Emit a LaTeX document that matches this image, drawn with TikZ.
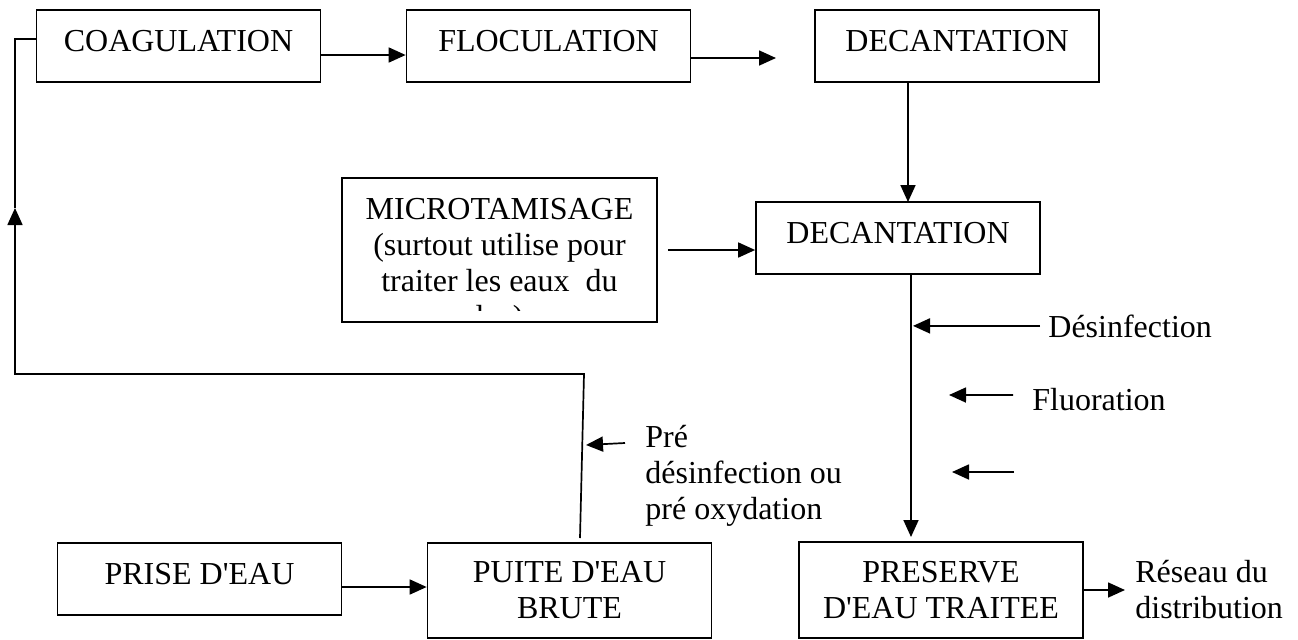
\documentclass[tikz,border=0pt]{standalone}
\usepackage{fontspec}
\setmainfont{Liberation Serif}
\usetikzlibrary{arrows.meta,positioning}

\begin{document}
\begin{tikzpicture}[x=0.5pt, y=-0.5pt,
    every node/.style={font=\fontsize{16pt}{18pt}\selectfont, inner sep=0pt},
    etape/.style={draw, line width=0.85pt, minimum width=142pt, minimum height=36pt, align=center},
    haut/.style={text height=11pt, text depth=5.5pt},
    fleche/.style={line width=0.85pt, -{Triangle[length=8.5pt, width=7.5pt]}},
    trait/.style={line width=0.85pt}]
  \useasboundingbox (0,0) rectangle (1298,639);

  % Top row
  \node[etape, haut] (coag) at (178.5,46) {COAGULATION};
  \node[etape, haut] (floc) at (548.5,46) {FLOCULATION};
  \node[etape, haut] (dec1) at (957,46) {DECANTATION};

  % Middle row
  \node[etape, haut] (dec2) at (898,238) {DECANTATION};
  \node[etape, minimum width=157.5pt, minimum height=72pt] (micro) at (499.5,250) {};
  \begin{scope}
    \clip (micro.north west) rectangle ([yshift=6pt]micro.south east);
    \node[anchor=base, align=center] (microtxt) at (499.5,327)
      {MICROTAMISAGE\\(surtout utilise pour\\traiter les eaux\ \ du\\lac)};
  \end{scope}

  % Bottom row
  \node[etape, haut] (prise) at (199.5,579) {PRISE D\textquotesingle EAU};
  \node[etape, minimum height=47.5pt] (puite) at (569.5,590.5) {PUITE D\textquotesingle EAU\\BRUTE};
  \node[etape, minimum height=48pt] (preserve) at (941,590) {PRESERVE\\D\textquotesingle EAU TRAITEE};

  % Labels
  \node[anchor=base west] (desinf) at (1048,337) {Désinfection};
  \node[anchor=base west] (fluor) at (1032,410) {Fluoration};
  \node[anchor=base west, align=left] (preox) at (645,519) {Pré\\désinfection ou\\pré oxydation};
  \node[anchor=base west, align=left] (reseau) at (1135,618) {Réseau du\\distribution};

  % Free ends
  \coordinate (flocfin) at (776,58);
  \coordinate (dec2haut) at (908,202);
  \coordinate (sortie) at (911,537);
  \coordinate (pD) at (913,325);
  \coordinate (fB) at (949,395);
  \coordinate (tA) at (1014,472);
  \coordinate (tB) at (952,472);
  \coordinate (pA) at (625,443);
  \coordinate (pB) at (586,445);
  \coordinate (puitehaut) at (580,538);
  \coordinate (coinD) at (584,374);
  \coordinate (coinG) at (15,374);
  \coordinate (flecheG) at (15,208);

  % Connectors
  \draw[fleche] ([yshift=-4.5pt]coag.east) -- ([yshift=-4.5pt]floc.west);
  \draw[fleche] ([yshift=-6pt]floc.east) -- (flocfin);
  \draw[fleche] (dec1.south -| dec2haut) -- (dec2haut);
  \draw[fleche] ([xshift=5pt]micro.east) -- (micro.east -| dec2.west);
  \draw[fleche] (dec2.south -| sortie) -- (sortie);
  \draw[fleche] ([xshift=-4pt]desinf.west) -- (desinf.west -| pD);
  \draw[fleche] ([xshift=-9.5pt, yshift=2pt]fluor.west) -- (fB);
  \draw[fleche] (tA) -- (tB);
  \draw[fleche] (pA) -- (pB);
  \draw[fleche] (preserve.east) -- ([xshift=-5pt]preserve.east -| reseau.west);
  \draw[fleche] ([yshift=-4pt]prise.east) -- ([yshift=-4pt]prise.east -| puite.west);

  % Return loop
  \draw[fleche] (puitehaut) -- (coinD) -- (coinG) -- (flecheG);
  \draw[trait] (flecheG) |- ([yshift=3.5pt]coag.west);
\end{tikzpicture}
\end{document}
